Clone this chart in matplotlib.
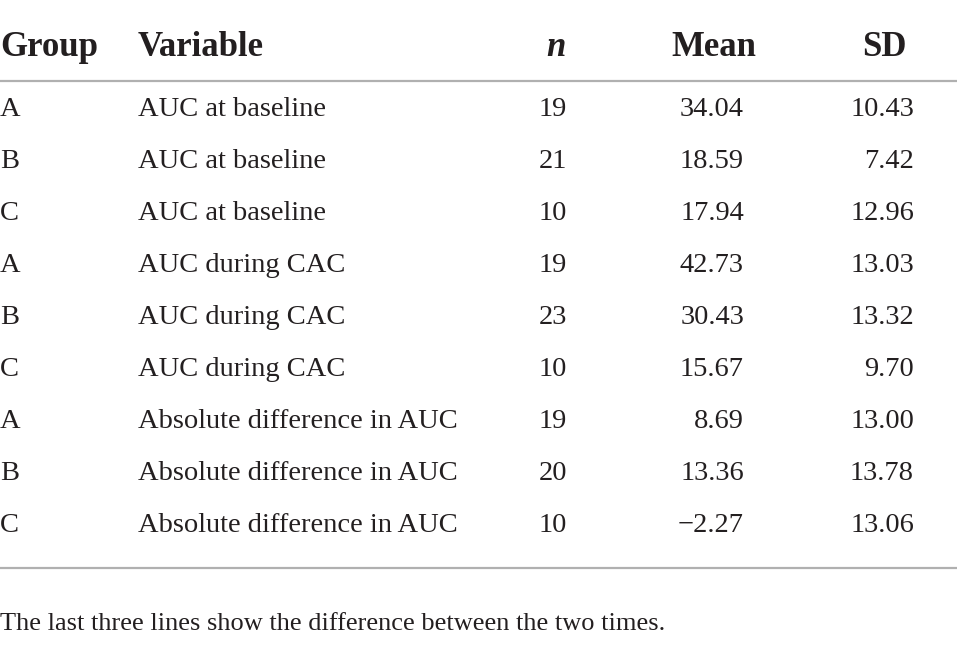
import matplotlib
matplotlib.use('Agg')
import matplotlib.pyplot as plt

# table contents
groups = ['A', 'B', 'C', 'A', 'B', 'C', 'A', 'B', 'C']
variables = ['AUC at baseline'] * 3 + ['AUC during CAC'] * 3 + ['Absolute difference in AUC'] * 3
n_vals = [19, 21, 10, 19, 23, 10, 19, 20, 10]
means = [34.04, 18.59, 17.94, 42.73, 30.43, 15.67, 8.69, 13.36, -2.27]
sds = [10.43, 7.42, 12.96, 13.03, 13.32, 9.70, 13.00, 13.78, 13.06]
headers = ['Group', 'Variable', 'n', 'Mean', 'SD']
note = 'The last three lines show the difference between the two times.'

W, H = 957, 646
fig = plt.figure(figsize=(W / 100, H / 100), dpi=100)
ax = fig.add_axes([0, 0, 1, 1])
ax.set_xlim(0, W)
ax.set_ylim(H, 0)
ax.axis('off')

plt.rcParams['font.family'] = ['Liberation Serif', 'DejaVu Serif']
txt = '#231f20'
hsize = 25
bsize = 20.5

# header
hy = 44
ax.text(0, hy, headers[0], fontsize=hsize, fontweight='bold', va='center_baseline', ha='left', color=txt)
ax.text(138, hy, headers[1], fontsize=hsize, fontweight='bold', va='center_baseline', ha='left', color=txt)
ax.text(556, hy, headers[2], fontsize=hsize, fontweight='bold', style='italic', va='center_baseline', ha='center', color=txt)
ax.text(714, hy, headers[3], fontsize=hsize, fontweight='bold', va='center_baseline', ha='center', color=txt)
ax.text(884, hy, headers[4], fontsize=hsize, fontweight='bold', va='center_baseline', ha='center', color=txt)

ax.axhline(81, color='#b0b0b0', lw=1.6)

row_y = [107 + 52 * i for i in range(len(groups))]
for y, g, v, n, m, s in zip(row_y, groups, variables, n_vals, means, sds):
    ax.text(0, y, g, fontsize=bsize, va='center_baseline', ha='left', color=txt)
    ax.text(138, y, v, fontsize=bsize, va='center_baseline', ha='left', color=txt)
    ax.text(567, y, str(n), fontsize=bsize, va='center_baseline', ha='right', color=txt)
    ax.text(744, y, f'{m:.2f}'.replace('-', '\u2212'), fontsize=bsize, va='center_baseline', ha='right', color=txt)
    ax.text(914, y, f'{s:.2f}', fontsize=bsize, va='center_baseline', ha='right', color=txt)

ax.axhline(568, color='#b0b0b0', lw=1.6)

ax.text(0, 621, note, fontsize=19, va='center_baseline', ha='left', color=txt)

fig.savefig('out.png', dpi=100, facecolor='white')
